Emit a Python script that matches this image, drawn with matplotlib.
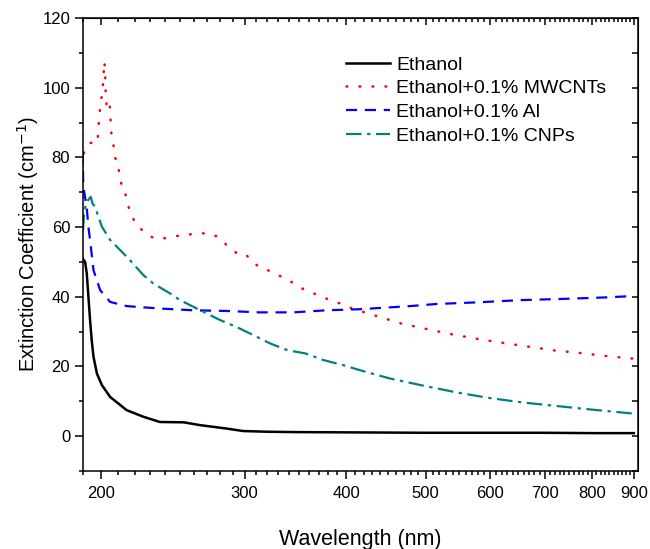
import matplotlib
matplotlib.use('Agg')
import matplotlib.pyplot as plt
from matplotlib.ticker import FixedLocator, FixedFormatter, NullFormatter, MultipleLocator

plt.rcParams['font.family'] = ['Liberation Sans', 'DejaVu Sans']

# data
wl_eth = [190.0, 191.3, 192.2, 193.1, 194.0, 194.9, 195.9, 197.8, 200.6, 205.3, 215.1, 225.5,
          236.3, 252.7, 264.6, 285.4, 298.7, 320, 344.4, 415, 500, 600, 700, 800, 900]
ext_eth = [51.0, 50.0, 46.7, 40.0, 33.3, 27.5, 22.7, 17.9, 14.6, 11.2, 7.4, 5.5,
           4.0, 3.9, 3.1, 2.1, 1.4, 1.2, 1.1, 1.0, 0.9, 0.9, 0.9, 0.8, 0.8]

wl_mw = [190.0, 190.8, 193.7, 198.1, 198.6, 199.0, 201.1, 202.0, 202.4, 202.6, 202.8, 203.6,
         205.1, 205.5, 205.9, 207.2, 208.1, 210.0, 210.6, 212.3, 213.4, 215.1, 217.0, 221.1,
         226.5, 232.3, 239.5, 246.9, 253.9, 262.2, 271.6, 278.2, 285.4, 293.8, 301.0, 306.7,
         314.6, 320.5, 329.9, 339.7, 349.6, 363.3, 377.6, 392.1, 406.5, 466.7, 502, 540.9,
         581.6, 623.4, 670.8, 721.6, 775.6, 835.2, 900]
ext_mw = [77.5, 81.7, 84.2, 84.2, 87.9, 91.7, 100.1, 107.5, 104.9, 101.1, 97.5, 93.6,
          94.9, 91.3, 87.4, 83.8, 79.9, 78.8, 75.2, 71.6, 71.3, 68.1, 64.4, 60.6,
          58.4, 56.8, 56.8, 57.4, 57.7, 58.2, 58.2, 57.2, 54.8, 52.4, 52.2, 50.0,
          48.1, 47.6, 46.2, 44.8, 42.8, 41.1, 39.5, 38.1, 36.6, 32.3, 30.7, 29.1,
          27.8, 26.7, 25.6, 24.5, 23.8, 22.9, 22.2]

wl_al = [190.0, 190.3, 191.3, 192.2, 193.1, 194.0, 195.9, 199.6, 205.3, 215.1, 236.3, 259.2,
         285.4, 313.3, 344.4, 378.4, 415.2, 478.6, 515, 582, 651, 744, 832, 900]
ext_al = [81.5, 72.0, 68.5, 65.5, 60.0, 56.3, 47.6, 41.9, 38.5, 37.3, 36.6, 36.1,
          35.9, 35.5, 35.5, 36.1, 36.4, 37.3, 37.9, 38.4, 39.0, 39.4, 39.8, 40.2]

wl_cnp = [190.2, 190.8, 192.2, 193.3, 194.4, 195.3, 196.8, 198.6, 200.6, 205.3, 211.2, 217.1,
          225.5, 231.9, 243.3, 250.1, 259.7, 269.6, 279.9, 293.3, 307.3, 322.2, 339.0, 356.3,
          374.7, 396.8, 415.2, 452.1, 497.7, 545.9, 598.4, 658.1, 723.5, 796.3, 900]
ext_cnp = [59.1, 64.4, 67.3, 68.0, 68.7, 66.8, 65.8, 63.0, 60.1, 56.3, 53.4, 50.5,
           46.2, 43.8, 40.9, 39.0, 37.1, 35.2, 33.3, 31.3, 29.0, 26.6, 24.6, 23.7,
           21.8, 20.3, 18.9, 16.5, 14.4, 12.5, 10.9, 9.6, 8.6, 7.6, 6.4]

labels = ['Ethanol', 'Ethanol+0.1% MWCNTs', 'Ethanol+0.1% Al', 'Ethanol+0.1% CNPs']
x_major = [200, 300, 400, 500, 600, 700, 800, 900]
x_minor = [w for w in range(190, 910, 10) if w not in x_major]

fig = plt.figure(figsize=(6.5, 5.49), dpi=100)
ax = fig.add_axes([0.1272, 0.1426, 0.9811 - 0.1272, 0.9667 - 0.1426])

ax.plot(wl_eth, ext_eth, color='black', lw=1.8, label=labels[0])
ax.plot(wl_mw, ext_mw, color='red', lw=1.8, linestyle=(0, (0.3, 4.9)),
        dash_capstyle='round', label=labels[1])
ax.plot(wl_al, ext_al, color='blue', lw=1.6, linestyle=(0, (5, 3.5)), label=labels[2])
ax.plot(wl_cnp, ext_cnp, color='#008080', lw=1.6, linestyle=(0, (7, 2.5, 1.5, 2.5)), label=labels[3])

ax.set_xscale('log')
ax.set_xlim(190, 910)
ax.set_ylim(-10, 120)
ax.xaxis.set_major_locator(FixedLocator(x_major))
ax.xaxis.set_major_formatter(FixedFormatter([str(v) for v in x_major]))
ax.xaxis.set_minor_locator(FixedLocator(x_minor))
ax.xaxis.set_minor_formatter(NullFormatter())
ax.yaxis.set_major_locator(MultipleLocator(20))
ax.yaxis.set_minor_locator(MultipleLocator(10))
ax.tick_params(which='both', direction='out', labelsize=12, width=1.1, top=False, right=False)
ax.tick_params(which='major', length=6, pad=3)
ax.tick_params(which='minor', length=3)
ax.tick_params(axis='x', which='major', pad=5)
for s in ax.spines.values():
    s.set_linewidth(1.1)

# mirror ticks on top and right point inwards
top = ax.secondary_xaxis('top')
top.xaxis.set_major_locator(FixedLocator(x_major))
top.xaxis.set_minor_locator(FixedLocator(x_minor))
top.xaxis.set_major_formatter(NullFormatter())
top.xaxis.set_minor_formatter(NullFormatter())
top.tick_params(which='both', direction='in', width=1.1)
top.tick_params(which='major', length=5)
top.tick_params(which='minor', length=3)

right = ax.secondary_yaxis('right')
right.yaxis.set_major_locator(MultipleLocator(20))
right.yaxis.set_minor_locator(MultipleLocator(10))
right.yaxis.set_major_formatter(NullFormatter())
right.tick_params(which='both', direction='in', width=1.1, length=4)

ax.set_xlabel('Wavelength (nm)', fontsize=15.5, labelpad=20)
ax.set_ylabel('Extinction Coefficient (cm$^{-1}$)', fontsize=14.5, labelpad=1)

ax.legend(loc='upper left', bbox_to_anchor=(345.7 / 650, 1 - 56 / 549),
          bbox_transform=fig.transFigure, frameon=False, fontsize=14,
          handlelength=2.3, handletextpad=0.3, labelspacing=0.31,
          borderpad=0, borderaxespad=0)

fig.savefig('out.png', dpi=100)
